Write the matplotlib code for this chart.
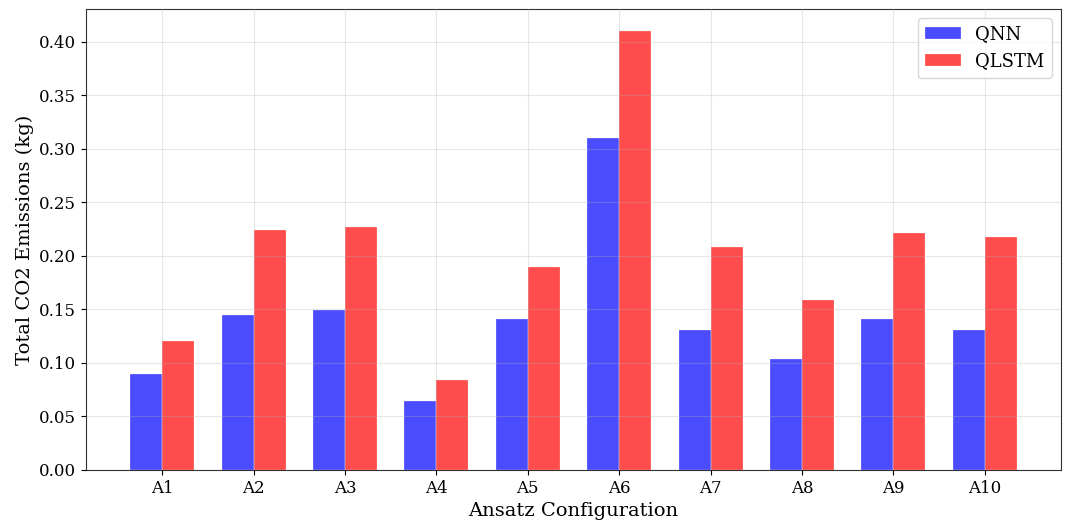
import matplotlib
matplotlib.use("Agg")
import matplotlib.pyplot as plt
import numpy as np

categories = ["A1", "A2", "A3", "A4", "A5", "A6", "A7", "A8", "A9", "A10"]
qnn = [0.090, 0.145, 0.149, 0.064, 0.141, 0.310, 0.131, 0.104, 0.141, 0.131]
qlstm = [0.120, 0.224, 0.227, 0.084, 0.190, 0.410, 0.208, 0.159, 0.221, 0.218]

plt.rcParams['font.family'] = ['DejaVu Serif']

fig = plt.figure(figsize=(10.66, 5.22), dpi=100)
ax = fig.add_axes([86/1066, 1-470/522, (1061-86)/1066, (470-9)/522])

x = np.arange(len(categories))
w = 0.35
ax.bar(x - w/2, qnn, w, label="QNN", color="blue", alpha=0.7, edgecolor="white", linewidth=0.25)
ax.bar(x + w/2, qlstm, w, label="QLSTM", color="red", alpha=0.7, edgecolor="white", linewidth=0.25)

ax.set_xticks(x)
ax.set_xticklabels(categories)
ax.set_xlabel("Ansatz Configuration", fontsize=14)
ax.set_ylabel("Total CO2 Emissions (kg)", fontsize=14)
ax.tick_params(labelsize=12)
ax.grid(True, alpha=0.3)
ax.set_axisbelow(False)
for s in ax.spines.values():
    s.set_color("#333333")
ax.legend(fontsize=13, loc="upper right")

fig.savefig("out.png", dpi=100)
